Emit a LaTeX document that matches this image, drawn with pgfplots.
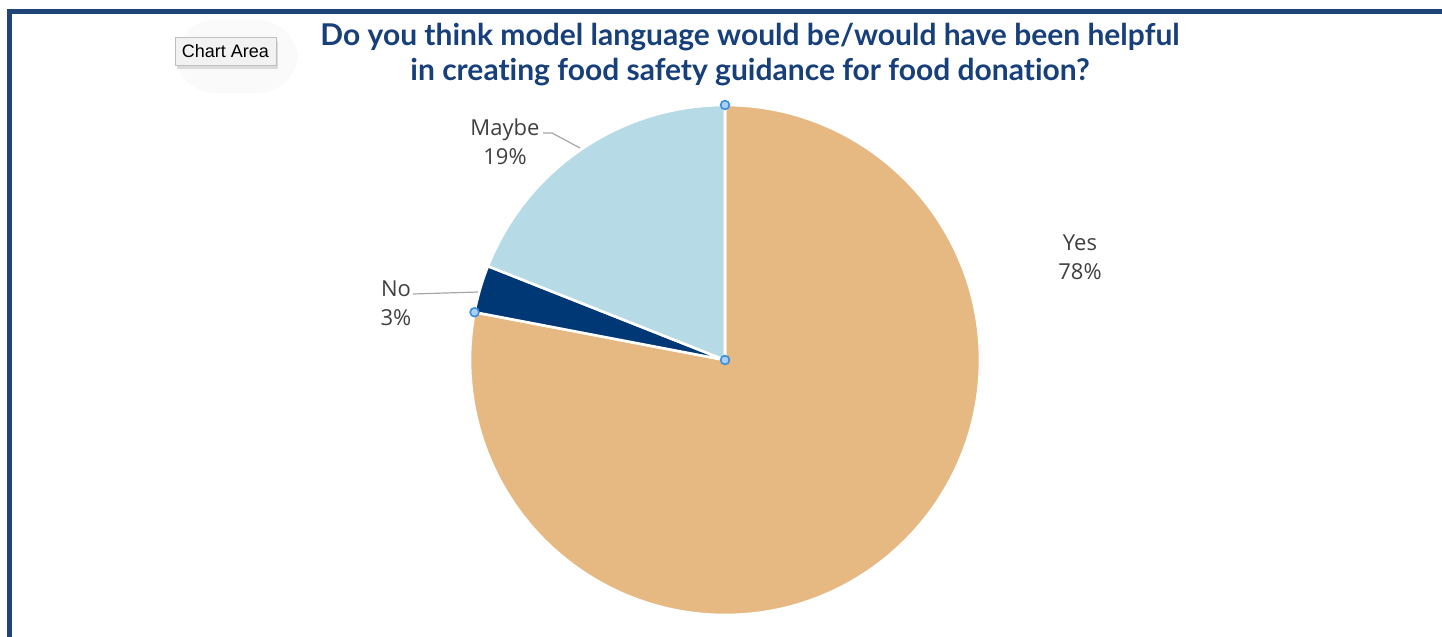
\documentclass[border=0pt]{standalone}
\usepackage{pgfplots}
\usepackage{pgfplotstable}
\pgfplotsset{compat=1.18}
\usepackage{fontspec}
\setmainfont{Open Sans}
\newfontfamily\titlefont[Ligatures={NoCommon,NoRequired,NoContextual}]{Lato}
\newfontfamily\uifont{Liberation Sans}
\usetikzlibrary{shadows}
\definecolor{yescol}{HTML}{E6B983}
\definecolor{nocol}{HTML}{003876}
\definecolor{maybecol}{HTML}{B7DBE6}
\definecolor{titlecol}{HTML}{173F7A}
\definecolor{framecol}{HTML}{1F4478}
\definecolor{labcol}{HTML}{404040}
\definecolor{leadcol}{HTML}{A6A6A6}
\definecolor{hfill}{HTML}{A9CFF4}
\definecolor{hdraw}{HTML}{3A8EE0}
\pgfplotstableread{
label value
Yes 78
No 3
Maybe 19
}\piedata
\begin{document}
\begin{tikzpicture}
\pgfplotstablegetelem{0}{value}\of\piedata \let\vYes\pgfplotsretval
\pgfplotstablegetelem{1}{value}\of\piedata \let\vNo\pgfplotsretval
\pgfplotstablegetelem{2}{value}\of\piedata \let\vMaybe\pgfplotsretval
\pgfmathsetmacro\aA{90}
\pgfmathsetmacro\aB{90-3.6*\vYes}
\pgfmathsetmacro\aC{\aB-3.6*\vNo}
\pgfmathsetmacro\aD{\aC-3.6*\vMaybe}
\def\R{127.5pt}
\begin{axis}[
  width=721pt, height=318.5pt, scale only axis,
  xmin=0, xmax=1442, ymin=0, ymax=637, y dir=reverse,
  hide axis, clip=false,
]
% frame
\fill[framecol] (axis cs:7,9) rectangle (axis cs:1442,14);
\fill[framecol] (axis cs:7,9) rectangle (axis cs:12,637);
% chart area tooltip glow
\fill[gray!4, rounded corners=20pt] (axis cs:175,20) rectangle (axis cs:298,93);
\node[draw=gray!50, fill=gray!10, inner xsep=3.5pt, inner ysep=2.5pt, drop shadow={opacity=0.25, shadow xshift=1pt, shadow yshift=-2pt}, font=\uifont\fontsize{9}{10}\selectfont, minimum height=14pt] at (axis cs:225.5,51) {Chart Area};
% title
\node[font=\titlefont\bfseries\fontsize{15}{17.5}\selectfont, text=titlecol, align=center] at (axis cs:750,55) {Do you think model language would be/would have been helpful\\in creating food safety guidance for food donation?};
% pie
\fill[yescol, draw=white, line width=1.3pt] (axis cs:725,360) -- ++(\aA:\R) arc[start angle=\aA, end angle=\aB, radius=\R] -- cycle;
\fill[nocol, draw=white, line width=1.3pt] (axis cs:725,360) -- ++(\aB:\R) arc[start angle=\aB, end angle=\aC, radius=\R] -- cycle;
\fill[maybecol, draw=white, line width=1.3pt] (axis cs:725,360) -- ++(\aC:\R) arc[start angle=\aC, end angle=\aD, radius=\R] -- cycle;
% leader lines
\draw[leadcol, line width=0.6pt] (axis cs:543,133) -- (axis cs:552,133) -- (axis cs:580,148);
\draw[leadcol, line width=0.6pt] (axis cs:413,294) -- (axis cs:478,292);
% labels
\begin{scope}[every node/.style={font=\fontsize{11}{14.5}\selectfont, text=labcol, align=center}]
\node at (axis cs:1080,257) {Yes\\78\%};
\node at (axis cs:505,142) {Maybe\\19\%};
\node at (axis cs:396,303) {No\\3\%};
\end{scope}
% selection handles
\filldraw[fill=hfill, draw=hdraw, line width=0.8pt] (axis cs:725,360) circle[radius=2.2pt];
\filldraw[fill=hfill, draw=hdraw, line width=0.8pt] (axis cs:725,360) ++(\aA:\R) circle[radius=2.2pt];
\filldraw[fill=hfill, draw=hdraw, line width=0.8pt] (axis cs:725,360) ++(\aB:\R) circle[radius=2.2pt];
\end{axis}
\pgfresetboundingbox
\path (0,0) rectangle (721pt,318.5pt);
\end{tikzpicture}
\end{document}
